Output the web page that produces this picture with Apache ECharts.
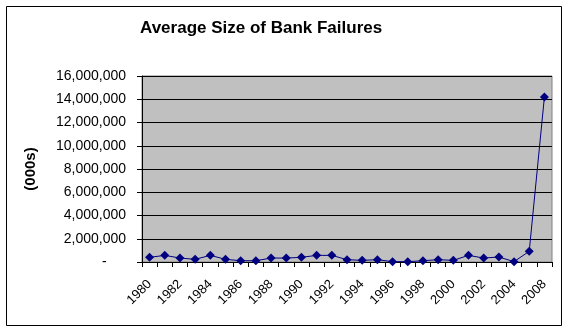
<!DOCTYPE html>
<html><head><meta charset="utf-8">
<script src="https://cdn.jsdelivr.net/npm/echarts@6/dist/echarts.min.js"></script>
<style>html,body{margin:0;padding:0;background:#fff}#c{width:568px;height:332px}</style>
</head><body><div id="c"></div>
<script>
var years = ['1980','1981','1982','1983','1984','1985','1986','1987','1988','1989','1990','1991','1992','1993','1994','1995','1996','1997','1998','1999','2000','2001','2002','2003','2004','2007','2008'];
var avgSize = [400000,570000,340000,230000,570000,230000,110000,110000,340000,340000,400000,570000,570000,200000,140000,200000,30000,30000,110000,200000,140000,570000,340000,430000,30000,920000,14200000];
var yTicks = {min:0, max:16000000, interval:2000000};
var titleText = 'Average Size of Bank Failures';
var yName = '(000s)';

var chart = echarts.init(document.getElementById('c'), null, {renderer:'canvas'});
function fmt(v){ if(v===0) return '-     '; return v.toString().replace(/\B(?=(\d{3})+(?!\d))/g, ','); }
chart.setOption({
  animation:false,
  backgroundColor:'#fff',
  title:{text:titleText, left:140, top:20, padding:0, textStyle:{fontFamily:'Liberation Sans, Arial', fontWeight:'bold', fontSize:17, color:'#000'}},
  graphic:[{type:'rect', shape:{x:6.5,y:6.5,width:555,height:319}, style:{fill:'none', stroke:'#000', lineWidth:1}, silent:true, z:-1}],
  grid:{left:142, right:16, top:76, bottom:70, show:true, backgroundColor:'#C0C0C0', borderColor:'#808080', borderWidth:1},
  xAxis:{type:'category', data:years, boundaryGap:true,
    axisLine:{lineStyle:{color:'#000', width:1}},
    axisTick:{show:true, interval:0, length:5, inside:false, lineStyle:{color:'#000'}},
    axisLabel:{interval:1, rotate:45, margin:20, fontFamily:'Liberation Sans, Arial', fontSize:13, color:'#000'},
    splitLine:{show:false}},
  yAxis:{type:'value', min:yTicks.min, max:yTicks.max, interval:yTicks.interval,
    name:yName, nameLocation:'middle', nameGap:104, nameRotate:90,
    nameTextStyle:{fontFamily:'Liberation Sans, Arial', fontWeight:'bold', fontSize:15, color:'#000'},
    axisLine:{show:true, lineStyle:{color:'#000', width:1}},
    axisTick:{show:true, length:5, lineStyle:{color:'#000'}},
    axisLabel:{formatter:fmt, margin:16, fontFamily:'Liberation Sans, Arial', fontSize:14, color:'#000'},
    splitLine:{show:true, lineStyle:{color:'#000', width:1}}},
  series:[{type:'line', data:avgSize, symbol:'diamond', symbolSize:9, showSymbol:true,
    lineStyle:{color:'#000080', width:1}, itemStyle:{color:'#000080'}}]
});
</script></body></html>
